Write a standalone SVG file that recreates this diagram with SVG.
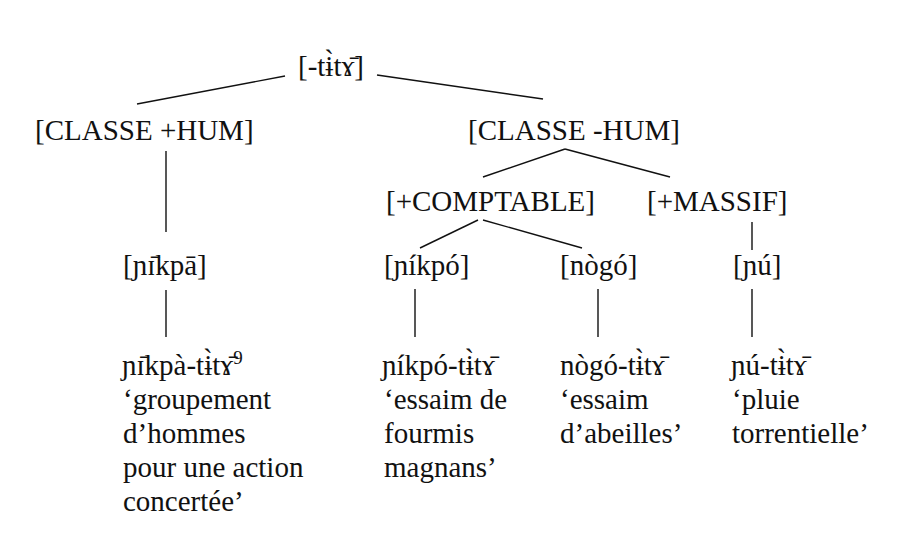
<svg xmlns="http://www.w3.org/2000/svg" width="911" height="533" viewBox="0 0 911 533">
<style>
.c line{stroke:#111;stroke-width:1.4}
.t text{font-family:"Liberation Serif","Times New Roman",serif;font-size:29px;fill:#111}
</style>
<rect width="911" height="533" fill="#fff"/>
<g class="c" id="connectors">
<line x1="285" y1="76" x2="137" y2="104"/>
<line x1="377" y1="75" x2="543" y2="99"/>
<line x1="166" y1="151" x2="166" y2="232"/>
<line x1="565" y1="149" x2="483" y2="177"/>
<line x1="565" y1="149" x2="670" y2="177"/>
<line x1="478" y1="220" x2="420" y2="248"/>
<line x1="483" y1="220" x2="582" y2="248"/>
<line x1="752" y1="222" x2="752" y2="250"/>
<line x1="166" y1="290" x2="166" y2="337"/>
<line x1="415" y1="289" x2="415" y2="337"/>
<line x1="598" y1="289" x2="598" y2="337"/>
<line x1="752" y1="289" x2="752" y2="337"/>
</g>
<g class="t">
<g id="root"><text x="298" y="76">[-tɨ̀tɤ̄]</text></g>
<g id="hum"><text x="35" y="140">[CLASSE +HUM]</text></g>
<g id="nonhum"><text x="468" y="140">[CLASSE -HUM]</text></g>
<g id="comptable"><text x="386" y="211">[+COMPTABLE]</text></g>
<g id="massif"><text x="647" y="211">[+MASSIF]</text></g>
<g id="nikpa"><text x="123" y="275">[ɲɪ̄kpā]</text></g>
<g id="nikpo"><text x="384" y="275">[ɲíkpó]</text></g>
<g id="nogo"><text x="560" y="275">[nògó]</text></g>
<g id="nu"><text x="733" y="275">[ɲú]</text></g>
<g id="leaf1"><text x="122" y="375">ɲɪ̄kpà-tɨ̀tɤ̄<tspan font-size="19" dy="-11">9</tspan></text>
<text x="123" y="409">‘groupement</text>
<text x="123" y="443">d’hommes</text>
<text x="123" y="477">pour une action</text>
<text x="123" y="511">concertée’</text></g>
<g id="leaf2"><text x="382" y="375">ɲíkpó-tɨ̀tɤ̄</text>
<text x="384" y="409">‘essaim de</text>
<text x="384" y="443">fourmis</text>
<text x="384" y="477">magnans’</text></g>
<g id="leaf3"><text x="560" y="375">nògó-tɨ̀tɤ̄</text>
<text x="560" y="409">‘essaim</text>
<text x="560" y="443">d’abeilles’</text></g>
<g id="leaf4"><text x="731" y="375">ɲú-tɨ̀tɤ̄</text>
<text x="732" y="409">‘pluie</text>
<text x="732" y="443">torrentielle’</text></g>
</g>
</svg>
